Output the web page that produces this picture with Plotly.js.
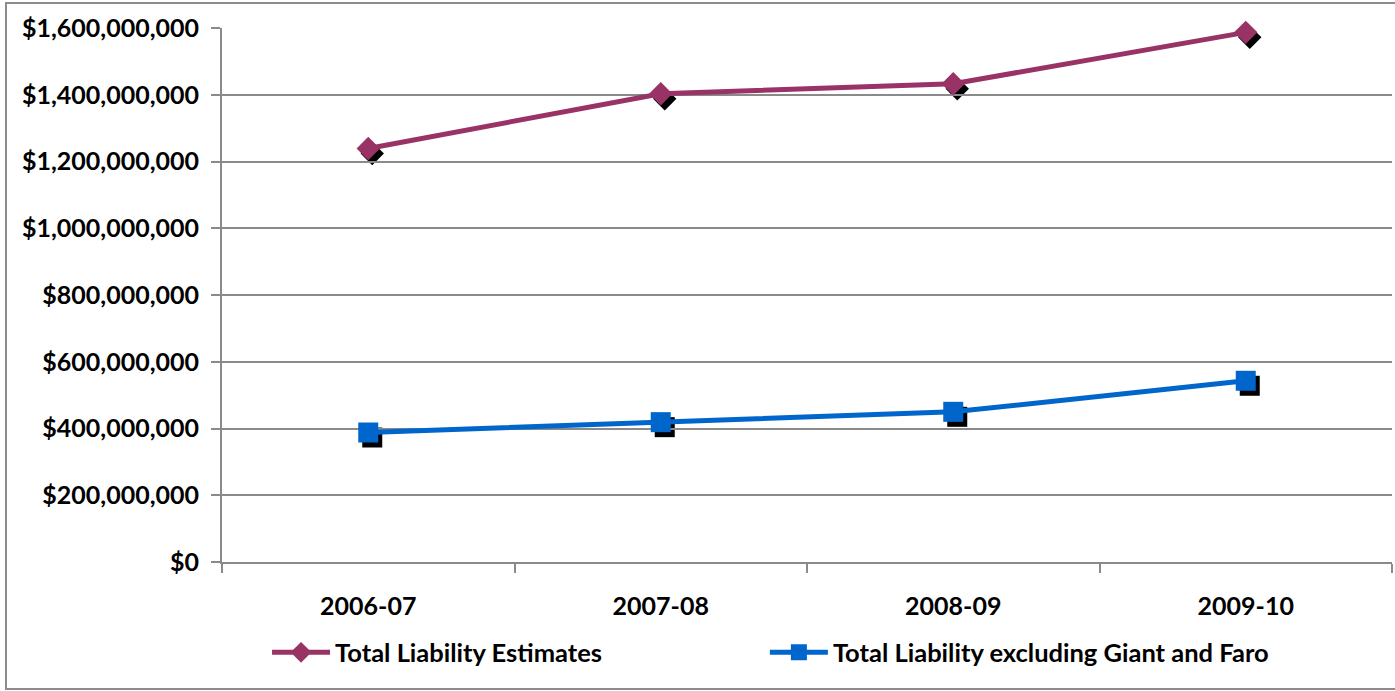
<!DOCTYPE html>
<html>
<head>
<meta charset="utf-8">
<script src="https://cdn.plot.ly/plotly-3.0.1.min.js"></script>
<style>
  html, body { margin: 0; padding: 0; background: #ffffff; overflow: hidden; }
  #chart { width: 1395px; height: 691px; position: absolute; left: 0; top: 0; }
  #frame { position: absolute; left: 5px; top: 2px; width: 1400px; height: 688px;
           box-sizing: border-box; border: 2px solid #8c8c8c; pointer-events: none; }
</style>
</head>
<body>
<div id="chart"></div>
<div id="frame"></div>
<script>
// ---- data ----
const years = ['2006-07', '2007-08', '2008-09', '2009-10'];
const totalLiability = [1239000000, 1403000000, 1433000000, 1587000000];
const totalExclGiantFaro = [388000000, 419000000, 450000000, 543000000];
const seriesNames = ['Total Liability Estimates', 'Total Liability excluding Giant and Faro'];

// ---- style ----
const pink = '#993366';
const blue = '#0066CC';
const gridGray = '#8a8a8a';
const fontFam = 'Lato, "Open Sans", sans-serif';

// plot geometry (px) used only for the drop-shadow offset
const plotW = 1170, plotH = 534;
const yMax = 1600000000;
const shadowDx = 4, shadowDy = 5;
const dxCat = shadowDx * years.length / plotW;
const dyVal = shadowDy * yMax / plotH;

const traces = [
  // drop shadows (drawn first, underneath)
  { x: years, y: totalLiability, xaxis: 'x', yaxis: 'y', mode: 'markers', type: 'scatter',
    marker: { symbol: 'diamond', size: 18, color: '#000000' }, showlegend: false, hoverinfo: 'skip', cliponaxis: false },
  { x: years, y: totalExclGiantFaro, xaxis: 'x', yaxis: 'y', mode: 'markers', type: 'scatter',
    marker: { symbol: 'square', size: 20, color: '#000000' }, showlegend: false, hoverinfo: 'skip', cliponaxis: false },
  // main series
  { x: years, y: totalLiability, xaxis: 'x2', yaxis: 'y2', mode: 'lines+markers', type: 'scatter',
    name: seriesNames[0], legend: 'legend', line: { color: pink, width: 5 },
    marker: { symbol: 'diamond', size: 18, color: pink }, cliponaxis: false },
  { x: years, y: totalExclGiantFaro, xaxis: 'x2', yaxis: 'y2', mode: 'lines+markers', type: 'scatter',
    name: seriesNames[1], legend: 'legend2', line: { color: blue, width: 5 },
    marker: { symbol: 'square', size: 20, color: blue }, cliponaxis: false }
];

const legendFont = { family: fontFam, size: 25.5, weight: 'bold', color: '#000000' };

const layout = {
  width: 1395, height: 691,
  margin: { l: 222, r: 3, t: 28, b: 129, pad: 0 },
  paper_bgcolor: '#ffffff', plot_bgcolor: 'rgba(0,0,0,0)',
  showlegend: true,
  font: { family: fontFam, color: '#000000' },
  // shadow axes (invisible, shifted a few px right / down)
  xaxis: { type: 'category', categoryarray: years, range: [-0.5 - dxCat, years.length - 0.5 - dxCat],
           visible: false, fixedrange: true },
  yaxis: { range: [dyVal, yMax + dyVal], visible: false, fixedrange: true },
  // visible axes
  xaxis2: { type: 'category', categoryarray: years, range: [-0.5, years.length - 0.5], anchor: 'y2',
            showgrid: false, zeroline: false, showline: true, linecolor: gridGray, linewidth: 2,
            ticks: 'outside', tickson: 'boundaries', ticklen: 9, tickwidth: 2, tickcolor: gridGray,
            ticklabelstandoff: 21,
            tickfont: { family: fontFam, size: 25, weight: 'bold', color: '#000000' }, fixedrange: true },
  yaxis2: { range: [0, yMax], dtick: 200000000, tick0: 0, anchor: 'x2',
            tickformat: '$,.0f',
            showgrid: true, gridcolor: gridGray, gridwidth: 2, zeroline: false,
            showline: true, linecolor: gridGray, linewidth: 2,
            ticks: 'outside', ticklen: 9, tickwidth: 2, tickcolor: gridGray,
            ticklabelstandoff: 7,
            tickfont: { family: fontFam, size: 25, weight: 'bold', color: '#000000' }, fixedrange: true },
  legend: { orientation: 'h', x: 0.0385, xanchor: 'left', y: -0.17, yanchor: 'middle',
            itemwidth: 58, font: legendFont, bgcolor: 'rgba(0,0,0,0)', borderwidth: 0 },
  legend2: { orientation: 'h', x: 0.464, xanchor: 'left', y: -0.17, yanchor: 'middle',
             itemwidth: 58, font: legendFont, bgcolor: 'rgba(0,0,0,0)', borderwidth: 0 }
};

Plotly.newPlot('chart', traces, layout, { displayModeBar: false, staticPlot: true });
</script>
</body>
</html>
